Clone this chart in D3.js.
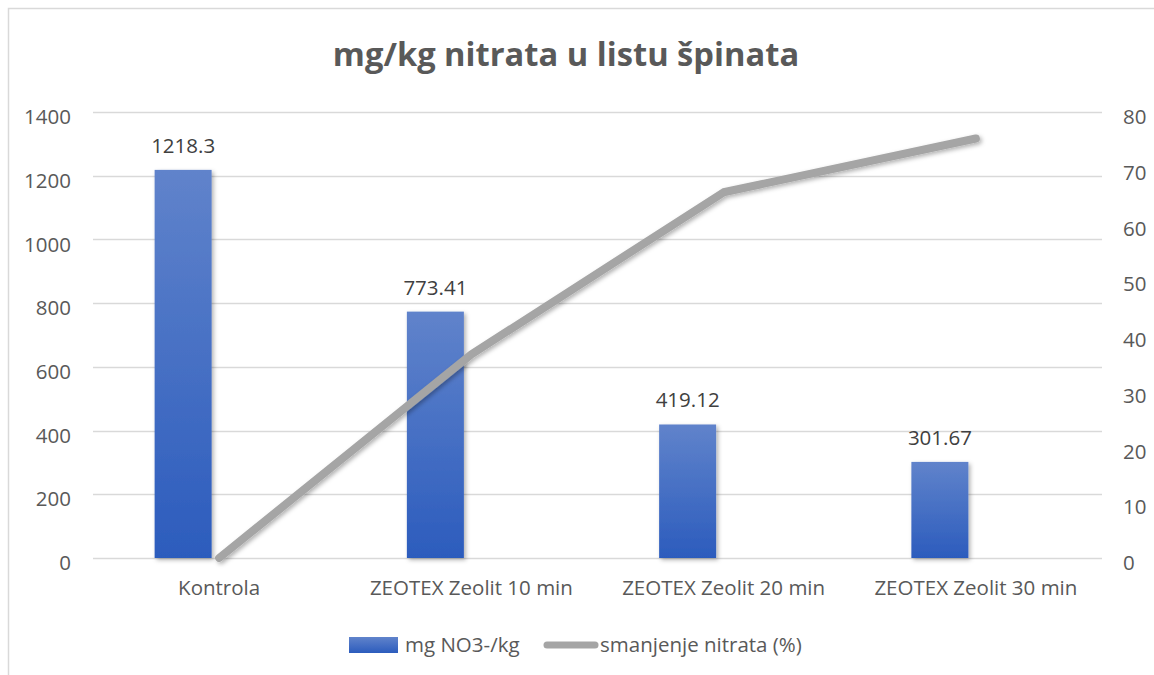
<!DOCTYPE html>
<html><head><meta charset="utf-8">
<script src="https://cdn.jsdelivr.net/npm/d3@7"></script>
<style>body{margin:0;background:#fff}svg{display:block}text{font-family:"Open Sans","Noto Sans",sans-serif}</style>
</head><body>
<script>
const title = "mg/kg nitrata u listu špinata";
const categories = ["Kontrola","ZEOTEX Zeolit 10 min","ZEOTEX Zeolit 20 min","ZEOTEX Zeolit 30 min"];
const barValues = [1218.3, 773.41, 419.12, 301.67];
const barLabels = ["1218.3","773.41","419.12","301.67"];
const lineValues = [0, 36.52, 65.60, 75.24];
const leftTicks = [0,200,400,600,800,1000,1200,1400];
const rightTicks = [0,10,20,30,40,50,60,70,80];
const seriesNames = ["mg NO3-/kg","smanjenje nitrata (%)"];

const W=1154,H=675, FS=20.5;
const svg=d3.select("body").append("svg").attr("width",W).attr("height",H);
const defs=svg.append("defs");
const g=defs.append("linearGradient").attr("id","bg").attr("x1",0).attr("y1",0).attr("x2",0).attr("y2",1);
g.append("stop").attr("offset","0%").attr("stop-color","#6083cb");
g.append("stop").attr("offset","100%").attr("stop-color","#2c5cbd");
const f=defs.append("filter").attr("id","sh").attr("x","-20%").attr("y","-20%").attr("width","140%").attr("height","140%");
f.append("feDropShadow").attr("dx",2).attr("dy",2).attr("stdDeviation",2).attr("flood-color","#000").attr("flood-opacity",0.3);

svg.append("rect").attr("x",8.5).attr("y",8.5).attr("width",1300).attr("height",1000).attr("fill","none").attr("stroke","#d9d9d9").attr("stroke-width",1.5);

const pL=93,pR=1102,pT=112,pB=558;
const x=d3.scaleBand().domain(categories).range([pL,pR]);
const yL=d3.scaleLinear().domain([0,1400]).range([pB,pT]);
const yR=d3.scaleLinear().domain([0,80]).range([pB,pT]);

svg.append("text").attr("x",566).attr("y",66).attr("text-anchor","middle").attr("font-size",32.7).attr("font-weight","bold").attr("fill","#595959").text(title);

// gridlines
svg.append("g").selectAll("line").data(leftTicks).join("line")
 .attr("x1",pL).attr("x2",pR).attr("y1",d=>Math.round(yL(d))+0.5).attr("y2",d=>Math.round(yL(d))+0.5)
 .attr("stroke","#d9d9d9").attr("stroke-width",1.5);

// left axis
const axL=svg.append("g").attr("transform",`translate(${pL-22},4.5)`).call(d3.axisLeft(yL).tickValues(leftTicks).tickFormat(d3.format("d")).tickSize(0).tickPadding(0));
axL.select(".domain").remove();
axL.selectAll("text").attr("font-size",FS).attr("fill","#595959").attr("dy","0.35em").attr("font-family","'Open Sans',sans-serif");
// right axis
const axR=svg.append("g").attr("transform",`translate(1123,4.5)`).call(d3.axisRight(yR).tickValues(rightTicks).tickFormat(d3.format("d")).tickSize(0).tickPadding(0));
axR.select(".domain").remove();
axR.selectAll("text").attr("font-size",FS).attr("fill","#595959").attr("dy","0.35em").attr("font-family","'Open Sans',sans-serif");

// bars
const bw=57, off=-64.5;
svg.append("g").selectAll("rect").data(barValues).join("rect")
 .attr("x",(d,i)=>x(categories[i])+x.bandwidth()/2+off).attr("width",bw)
 .attr("y",d=>yL(d)).attr("height",d=>pB-yL(d))
 .attr("fill","url(#bg)").attr("filter","url(#sh)");
svg.append("g").selectAll("text").data(barValues).join("text")
 .attr("x",(d,i)=>x(categories[i])+x.bandwidth()/2+off+bw/2).attr("y",d=>yL(d)-17)
 .attr("text-anchor","middle").attr("font-size",FS).attr("fill","#404040").text((d,i)=>barLabels[i]);

// x labels
svg.append("g").selectAll("text").data(categories).join("text")
 .attr("x",d=>x(d)+x.bandwidth()/2).attr("y",595).attr("text-anchor","middle").attr("font-size",FS).attr("fill","#595959").text(d=>d);

// line
const line=d3.line().x((d,i)=>x(categories[i])+x.bandwidth()/2).y(d=>yR(d));
svg.append("path").datum(lineValues).attr("d",line).attr("fill","none").attr("stroke","#a5a5a5").attr("stroke-width",8)
 .attr("stroke-linecap","round").attr("stroke-linejoin","round").attr("filter","url(#sh)");

// legend
const lg=svg.append("g");
lg.append("rect").attr("x",349).attr("y",637).attr("width",49).attr("height",16).attr("fill","url(#bg)");
lg.append("text").attr("x",405).attr("y",652).attr("font-size",FS).attr("fill","#595959").text(seriesNames[0]);
lg.append("line").attr("x1",547).attr("x2",595).attr("y1",645).attr("y2",645).attr("stroke","#a5a5a5").attr("stroke-width",7).attr("stroke-linecap","round");
lg.append("text").attr("x",600).attr("y",652).attr("font-size",FS).attr("fill","#595959").text(seriesNames[1]);
</script>
</body></html>
